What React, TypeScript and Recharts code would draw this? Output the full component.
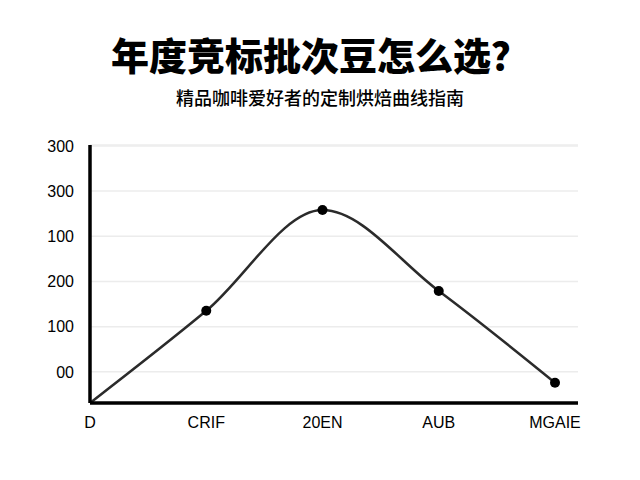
import React from 'react';
import { Line, LineChart, XAxis, YAxis, CartesianGrid } from 'recharts';

// 类别（横轴）
const categories = ['D', 'CRIF', '20EN', 'AUB', 'MGAIE'];
// 曲线数值
const roastValues = [-69, 135, 358, 179, -24];
// 纵轴刻度与显示标签
const yTicks = [0, 100, 200, 300, 400, 500];
const yTickLabels = ['00', '100', '200', '100', '300', '300'];

const data = categories.map((name, i) => ({ name, value: roastValues[i] }));

const App = () => {
  return (
    <div
      style={{
        position: 'absolute',
        left: 0,
        top: 0,
        width: 640,
        height: 480,
        background: '#fff',
        fontFamily: '"Noto Sans CJK SC", "Liberation Sans", sans-serif',
      }}
    >
      {/* 图表 */}
      <div style={{ position: 'absolute', left: 0, top: 0 }}>
        <LineChart
          width={640}
          height={480}
          data={data}
          margin={{ top: 145, right: 62, left: 0, bottom: 0 }}
        >
          <CartesianGrid stroke="#ececec" strokeWidth={1.5} vertical={false} />
          <XAxis
            dataKey="name"
            axisLine={{ stroke: '#000', strokeWidth: 3.5 }}
            tickLine={false}
            tickSize={0}
            tickMargin={14}
            padding={{ left: 0, right: 23 }}
            height={77}
            tick={{ fill: '#000', fontSize: 16, fontFamily: '"Liberation Sans", Arial, sans-serif' }}
          />
          <YAxis
            type="number"
            domain={[-69, 502]}
            ticks={yTicks}
            interval={0}
            width={90}
            axisLine={{ stroke: '#000', strokeWidth: 3.5 }}
            tickLine={false}
            tickSize={0}
            tickMargin={16}
            tick={{ fill: '#000', fontSize: 16, fontFamily: '"Liberation Sans", Arial, sans-serif' }}
            tickFormatter={(v: number) => yTickLabels[yTicks.indexOf(v)] ?? ''}
          />
          <Line
            type="monotone"
            dataKey="value"
            stroke="#2b2b2b"
            strokeWidth={2.5}
            isAnimationActive={false}
            dot={(props: any) => {
              const { cx, cy, index } = props;
              if (index === 0) return <g key={`d${index}`} />;
              return <circle key={`d${index}`} cx={cx} cy={cy} r={5} fill="#000" stroke="none" />;
            }}
            activeDot={false}
          />
        </LineChart>
      </div>

      {/* 标题 */}
      <div
        style={{
          position: 'absolute',
          top: 28,
          left: 0,
          width: 640,
          textAlign: 'center',
          fontSize: 38,
          fontWeight: 900,
          lineHeight: '52px',
          color: '#000',
        }}
      >
        年度竞标批次豆怎么选？
      </div>
      <div
        style={{
          position: 'absolute',
          top: 84,
          left: 0,
          width: 640,
          textAlign: 'center',
          fontSize: 18,
          fontWeight: 500,
          lineHeight: '26px',
          color: '#000',
        }}
      >
        精品咖啡爱好者的定制烘焙曲线指南
      </div>
    </div>
  );
};

export default App;
